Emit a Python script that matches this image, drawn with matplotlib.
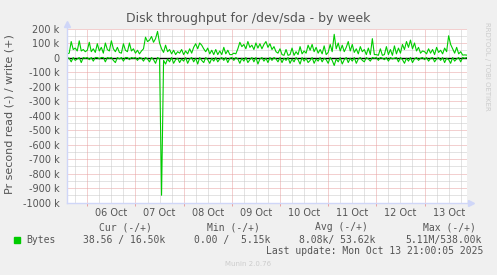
import matplotlib
matplotlib.use('Agg')
import matplotlib.pyplot as plt
import matplotlib.patches as mpatches
import pandas as pd
from datetime import datetime

# hourly samples, Oct 5 14:00 -> Oct 13 21:00, in kB/s
write_k = (
    [25, 30, 110, 55, 65, 45, 115, 45, 55, 40]                                    # oct 5
    + [50, 105, 40, 60, 35, 95, 45, 70, 30, 100, 55, 45, 115, 60, 40, 70,
       35, 30, 95, 50, 40, 100, 45, 60]                                            # oct 6
    + [30, 50, 25, 45, 60, 140, 110, 120, 145, 105, 130, 180, 100]                 # oct 7 am
    + [60, 35, 85, 40, 55, 25, 50, 20, 40, 30, 55]                                 # oct 7 pm
    + [20, 45, 25, 60, 30, 70, 95, 60, 100, 85, 60, 40, 65, 25, 50, 20,
       55, 20, 45, 20, 70, 25, 50, 20]                                             # oct 8
    + [20, 30, 25, 60, 105, 75, 90, 60, 110, 70, 85, 55, 100, 65, 95, 60,
       90, 110, 70, 95, 55, 75, 40, 30]                                            # oct 9
    + [60, 20, 15, 55, 15, 20, 65, 15, 40, 20, 75, 25, 45, 30, 85, 50,
       90, 40, 70, 30, 55, 25, 80, 20]                                             # oct 10
    + [35, 90, 40, 160, 60, 100, 45, 85, 40, 70, 110, 45, 90, 35, 60, 25,
       75, 40, 55, 20, 65, 20, 130, 20]                                            # oct 11
    + [20, 15, 60, 15, 20, 75, 20, 55, 15, 80, 25, 65, 30, 90, 55, 110,
       70, 120, 60, 100, 45, 70, 30, 45]                                           # oct 12
    + [40, 25, 60, 30, 55, 20, 70, 35, 50, 25, 65, 40, 150, 90, 60, 30,
       70, 25, 40, 16.5, 18, 16.5]                                                 # oct 13
)
read_k = (
    [0, -5, -30, 0, -20, -10, 0, -35, 0, -5]
    + [0, -15, 0, -25, 0, 0, -10, 0, 0, -30, 0, -5, 0, -20, -35, 0,
       -10, 0, -25, 0, 0, -15, 0, -5]
    + [0, -20, 0, -5, -25, 0, -10, -30, 0, -15, -40, 0, -10]
    + [-950, -20, -45, -10, -30, 0, -40, -15, -5, -35, -10]
    + [-25, 0, -40, -10, 0, -30, -5, -45, 0, -20, -35, 0, -15, -40, -5, -25,
       0, -30, -10, 0, -20, 0, -35, -5]
    + [0, -20, 0, -10, -40, -5, -25, 0, -35, -15, 0, -30, 0, -45, -10, 0,
       -25, -5, -35, 0, -20, 0, -10, -30]
    + [0, -35, -5, -20, 0, -40, -10, -30, 0, -15, -45, 0, -25, -5, -35, -20,
       0, -40, -10, -25, 0, -30, -5, -15]
    + [-40, 0, -20, -55, -10, -30, 0, -45, -15, 0, -35, -5, -25, 0, -40, -10,
       0, -20, -30, 0, -10, -25, 0, -5]
    + [0, -20, 0, -5, -15, 0, -25, 0, -10, -5, 0, -30, 0, -15, -40, -5,
       -25, 0, -35, -10, 0, -20, -5, 0]
    + [-15, 0, -25, -5, 0, -30, -10, 0, -20, 0, -35, -5, -15, -40, 0, -25,
       -10, 0, -30, 0, -5, -0.04]
)

ytick_vals = [200, 100, 0, -100, -200, -300, -400, -500, -600, -700, -800, -900, -1000]
ytick_labels = ['200 k', '100 k', '0', '-100 k', '-200 k', '-300 k', '-400 k', '-500 k',
                '-600 k', '-700 k', '-800 k', '-900 k', '-1000 k']
day_labels = ['06 Oct', '07 Oct', '08 Oct', '09 Oct', '10 Oct', '11 Oct', '12 Oct', '13 Oct']

legend_head = ['Cur (-/+)', 'Min (-/+)', 'Avg (-/+)', 'Max (-/+)']
legend_vals = ['38.56 / 16.50k', '0.00 /  5.15k', '8.08k/ 53.62k', '5.11M/538.00k']

BACK = '#F0F0F0'
FONT = '#555555'
AXIS = '#CFD6F8'
MGRID = '#E8A0A0'
GRID = '#C8C8C8'
GREEN = '#00CC00'

W, H = 497, 275
times = pd.date_range('2025-10-05 14:00', periods=len(write_k), freq='h')
t0 = datetime(2025, 10, 5, 13, 45)
t1 = datetime(2025, 10, 13, 21, 0)

fig = plt.figure(figsize=(W / 100, H / 100), dpi=100)
fig.patch.set_facecolor(BACK)
ax = fig.add_axes([66.7 / W, (H - 202.5) / H, 400 / W, 174 / H])
ax.set_facecolor('white')
for s in ax.spines.values():
    s.set_visible(False)

ax.set_xlim(t0, t1)
ax.set_ylim(-1000, 200)

# dotted grid
dots = (0, (1, 1))
gkw = dict(lw=0.72, ls=dots, zorder=1)
for v in range(-950, 200, 100):
    ax.axhline(v, color=GRID, **gkw)
for v in ytick_vals:
    ax.axhline(v, color=MGRID, **gkw)
six_h = pd.date_range('2025-10-05 18:00', '2025-10-13 18:00', freq='6h')
midnights = pd.date_range('2025-10-06', '2025-10-13', freq='D')
noons = pd.date_range('2025-10-06 12:00', '2025-10-13 12:00', freq='D')
for t in six_h:
    if t.hour != 0:
        ax.axvline(t, color=GRID, **gkw)
for t in midnights:
    ax.axvline(t, color=MGRID, **gkw)

ax.axhline(0, color='black', lw=1.0, zorder=3)
ax.plot(times, write_k, color=GREEN, lw=0.8, zorder=4)
ax.plot(times, read_k, color=GREEN, lw=0.8, zorder=4)

# ticks / labels
ax.set_yticks(ytick_vals)
ax.set_yticklabels(ytick_labels)
ax.tick_params(axis='y', length=0, pad=5.3, labelsize=7, labelcolor=FONT)
ax.set_xticks(midnights)
ax.set_xticklabels([])
ax.tick_params(axis='x', which='major', length=2, color=MGRID, width=0.7)
ax.set_xticks(noons, minor=True)
ax.set_xticklabels(day_labels, minor=True)
ax.tick_params(axis='x', which='minor', length=0, pad=4, labelsize=7, labelcolor=FONT)

# axes with arrows
ax.plot([0, 0], [0, 1 + 5 / 174], transform=ax.transAxes, color=AXIS, lw=1, clip_on=False, zorder=5)
ax.plot([0, 1 + 4 / 400], [0, 0], transform=ax.transAxes, color=AXIS, lw=1, clip_on=False, zorder=5)
ax.plot([0], [1 + 5 / 174], transform=ax.transAxes, marker='^', ms=4, color=AXIS, clip_on=False, zorder=5)
ax.plot([1 + 4 / 400], [0], transform=ax.transAxes, marker='>', ms=4, color=AXIS, clip_on=False, zorder=5)

def fx(px):
    return px / W

def fy(py):
    return 1 - py / H

fig.text(fx(248.5), fy(18.5), 'Disk throughput for /dev/sda - by week', ha='center', va='center',
         fontsize=9, color=FONT)
fig.text(fx(10), fy(114), 'Pr second read (-) / write (+)', rotation=90, ha='center', va='center',
         fontsize=8, color=FONT)
fig.text(fx(487), fy(22), 'RRDTOOL / TOBI OETIKER', rotation=270, ha='center', va='top',
         fontsize=5, color='#CCCCCC')

mono = dict(family='DejaVu Sans Mono', fontsize=7, color=FONT, va='center')
for x, s in zip([99, 207, 315, 423], legend_head):
    fig.text(fx(x), fy(227.5), s, ha='left', **mono)
for x, s in zip([83, 194, 299, 405], legend_vals):
    fig.text(fx(x), fy(240), s, ha='left', **mono)
fig.text(fx(26.7), fy(240), 'Bytes', ha='left', **mono)
fig.patches.append(mpatches.Rectangle((fx(14), fy(243)), 6 / W, 6 / H, transform=fig.transFigure,
                                      color=GREEN, figure=fig))
fig.text(fx(483), fy(251.5), 'Last update: Mon Oct 13 21:00:05 2025', ha='right', **mono)
fig.text(fx(248), fy(264), 'Munin 2.0.76', ha='center', va='center', fontsize=5, color='#CCCCCC')

fig.savefig('out.png', dpi=100, facecolor=BACK)
